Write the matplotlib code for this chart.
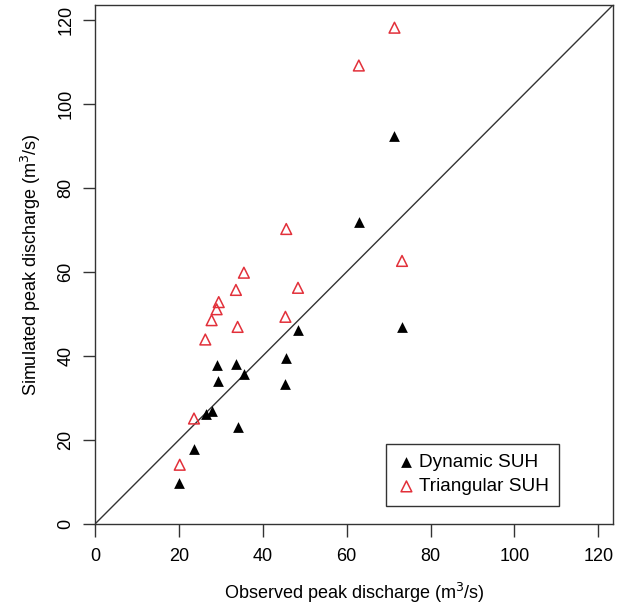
import matplotlib
matplotlib.use("Agg")
from matplotlib import pyplot as plt

plt.rcParams['font.family'] = ['Liberation Sans', 'DejaVu Sans']

# observed peak discharge (m3/s), shared by both models
observed = [20.0, 23.5, 26.4, 27.9, 29.0, 29.4, 33.6, 34.0, 35.5,
            45.3, 45.5, 48.4, 62.9, 71.4, 73.2]
observed_tri = [20.2, 23.6, 26.3, 27.8, 29.0, 29.5, 33.6, 34.0, 35.5,
                45.4, 45.6, 48.4, 62.9, 71.4, 73.2]
dynamic_suh = [9.8, 17.9, 26.2, 26.8, 37.9, 34.1, 38.1, 23.0, 35.7,
               33.3, 39.5, 46.1, 71.8, 92.4, 46.9]
triangular_suh = [14.1, 25.1, 43.9, 48.5, 51.1, 52.8, 55.7, 46.9, 59.8,
                  49.3, 70.2, 56.2, 109.1, 118.1, 62.6]
ticks = [0, 20, 40, 60, 80, 100, 120]
lim = 123.5

fig = plt.figure(figsize=(6.18, 6.08), dpi=100)
ax = fig.add_axes([95 / 618, 1 - 524 / 608, 518 / 618, 519 / 608])

ax.plot([0, lim], [0, lim], color='#333333', linewidth=1.0, zorder=1)
ax.scatter(observed, dynamic_suh, marker='^', s=60, color='black',
           linewidths=0, label='Dynamic SUH', zorder=3)
ax.scatter(observed_tri, triangular_suh, marker='^', s=60, facecolors='none',
           edgecolors='#e2303a', linewidths=1.1, label='Triangular SUH', zorder=3)

ax.set_xlim(0, lim)
ax.set_ylim(0, lim)
ax.set_xticks(ticks)
ax.set_yticks(ticks)
ax.tick_params(direction='out', length=9, width=1, color='#333333',
               labelsize=13, pad=8)
ax.tick_params(axis='y', pad=6)
for lbl in ax.get_yticklabels():
    lbl.set_rotation(90)
    lbl.set_va('center')
for s in ax.spines.values():
    s.set_color('#333333')
    s.set_linewidth(1.0)

ax.set_xlabel('Observed peak discharge (m$^3$/s)', fontsize=13, labelpad=12)
ax.set_ylabel('Simulated peak discharge (m$^3$/s)', fontsize=13, labelpad=10)

leg = ax.legend(loc='lower right', bbox_to_anchor=(0.896, 0.035),
                borderaxespad=0, fontsize=13.7, fancybox=False, framealpha=1,
                edgecolor='#333333', handletextpad=0.15, borderpad=0.55,
                labelspacing=0.35, handlelength=1.0)
leg.get_frame().set_linewidth(1.0)

fig.savefig('out.png', dpi=100)
